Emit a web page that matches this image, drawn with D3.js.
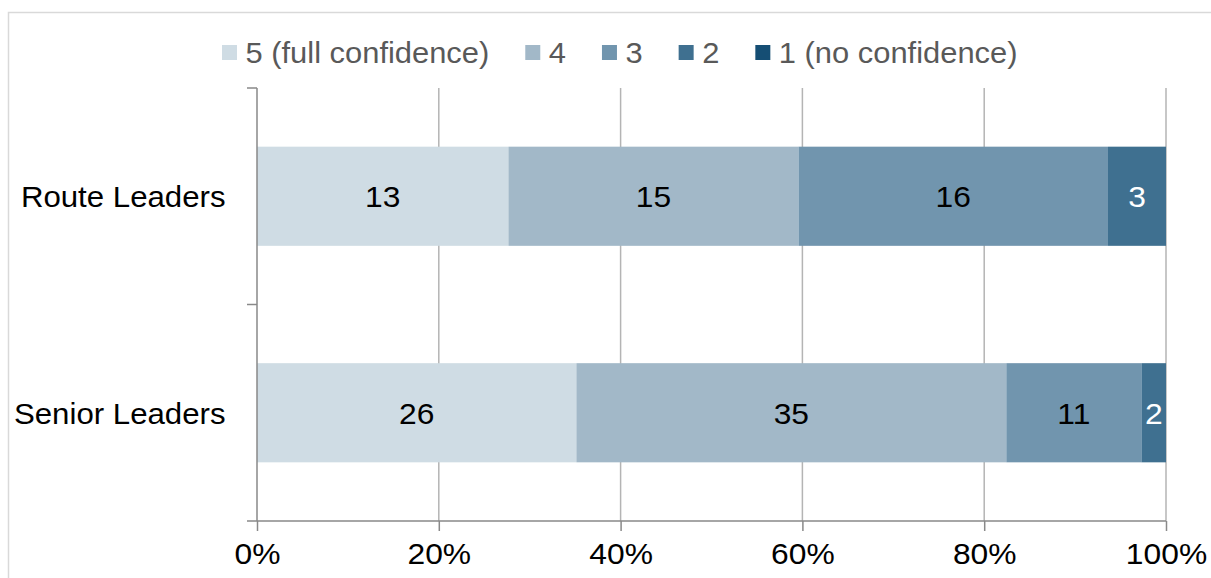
<!DOCTYPE html>
<html><head><meta charset="utf-8">
<script src="https://cdn.jsdelivr.net/npm/d3@7"></script>
<style>
html,body{margin:0;padding:0;background:#fff;}
svg{display:block;font-family:"Liberation Sans",Arial,sans-serif;}
</style></head>
<body>
<svg id="chart" width="1211" height="578"></svg>
<script>
const categories = ["Route Leaders", "Senior Leaders"];
const seriesNames = ["5 (full confidence)", "4", "3", "2", "1 (no confidence)"];
const s5 = [13, 26];
const s4 = [15, 35];
const s3 = [16, 11];
const s2 = [3, 2];
const s1 = [0, 0];
const xTicks = [0, 0.2, 0.4, 0.6, 0.8, 1.0];
const colors = ["#CFDCE4", "#A2B8C8", "#7195AE", "#3F7090", "#154E74"];
const labelColors = ["#000", "#000", "#000", "#fff", "#fff"];

const seriesValues = [s5, s4, s3, s2, s1];
const rows = categories.map((c, i) => {
  const r = {cat: c};
  seriesNames.forEach((s, k) => r[s] = seriesValues[k][i]);
  return r;
});

const SX = 1.06;   // horizontal text stretch (numbers)
const SXC = 1.04;  // category labels
const SXL = 1.03;  // legend
const FS = 30;

const svg = d3.select("#chart");

// outer border
svg.append("rect").attr("x", 8.5).attr("y", 12.5).attr("width", 1400).attr("height", 800)
  .attr("fill", "none").attr("stroke", "#d9d9d9").attr("stroke-width", 1.5);

const x = d3.scaleLinear().domain([0, 1]).range([257, 1166]);
const y = d3.scaleBand().domain(categories).range([88, 521]).padding(0);
const barFrac = 0.458;

// gridlines
svg.append("g").selectAll("line").data(xTicks.filter(t => t > 0)).join("line")
  .attr("x1", d => x(d)).attr("x2", d => x(d))
  .attr("y1", 88).attr("y2", 521)
  .attr("stroke", "#b4b4b4").attr("stroke-width", 1.5);

const stack = d3.stack().keys(seriesNames).offset(d3.stackOffsetExpand);
const stacked = stack(rows);

const gBars = svg.append("g");
stacked.forEach((layer, k) => {
  gBars.append("g").selectAll("rect").data(layer).join("rect")
    .attr("x", d => x(d[0]))
    .attr("width", d => x(d[1]) - x(d[0]))
    .attr("y", d => y(d.data.cat) + y.bandwidth() * (1 - barFrac) / 2)
    .attr("height", y.bandwidth() * barFrac)
    .attr("fill", colors[k]);
});
stacked.forEach((layer, k) => {
  gBars.append("g").selectAll("g").data(layer.filter(d => d.data[layer.key] > 0)).join("g")
    .attr("transform", d => `translate(${(x(d[0]) + x(d[1])) / 2},${y(d.data.cat) + y.bandwidth() / 2}) scale(${SX},1)`)
    .append("text")
    .attr("dy", "0.36em")
    .attr("text-anchor", "middle")
    .attr("font-size", FS)
    .attr("fill", labelColors[k])
    .text(d => d.data[layer.key]);
});

// x axis
const xAxis = d3.axisBottom(x).tickValues(xTicks).tickFormat(d3.format(".0%")).tickSize(10).tickPadding(12);
const gx = svg.append("g").attr("transform", "translate(0,521)").call(xAxis);
gx.select(".domain").remove();
gx.append("line").attr("x1", 247).attr("x2", 1166).attr("y1", 0).attr("y2", 0)
  .attr("stroke", "#898989").attr("stroke-width", 1.5);
gx.selectAll(".tick line").attr("stroke", "#898989").attr("stroke-width", 1.5);
gx.selectAll(".tick text").attr("font-size", FS).attr("fill", "#000")
  .attr("font-family", "'Liberation Sans',Arial,sans-serif")
  .attr("transform", `scale(${SX},1)`);

// y axis
const gy = svg.append("g");
gy.append("line").attr("x1", 257).attr("x2", 257).attr("y1", 88).attr("y2", 521)
  .attr("stroke", "#898989").attr("stroke-width", 1.5);
const bounds = categories.map(c => y(c));
gy.selectAll(".yt").data(bounds).join("line")
  .attr("x1", 247).attr("x2", 257).attr("y1", d => d).attr("y2", d => d)
  .attr("stroke", "#898989").attr("stroke-width", 1.5);
gy.selectAll("g").data(categories).join("g")
  .attr("transform", d => `translate(225.5,${y(d) + y.bandwidth() / 2}) scale(${SXC},1)`)
  .append("text").attr("dy", "0.36em")
  .attr("text-anchor", "end").attr("font-size", FS).attr("fill", "#000")
  .text(d => d);

// legend
const lg = svg.append("g");
let cx = 222;
seriesNames.forEach((s, k) => {
  lg.append("rect").attr("x", cx).attr("y", 45).attr("width", 15).attr("height", 15).attr("fill", colors[k]);
  const t = lg.append("g").attr("transform", `translate(${cx + 23.5},63) scale(${SXL},1)`)
    .append("text").attr("font-size", FS).attr("fill", "#595959").text(s);
  const w = t.node().getComputedTextLength() * SXL;
  cx = cx + 23.5 + w + 36;
});
</script>
</body></html>
